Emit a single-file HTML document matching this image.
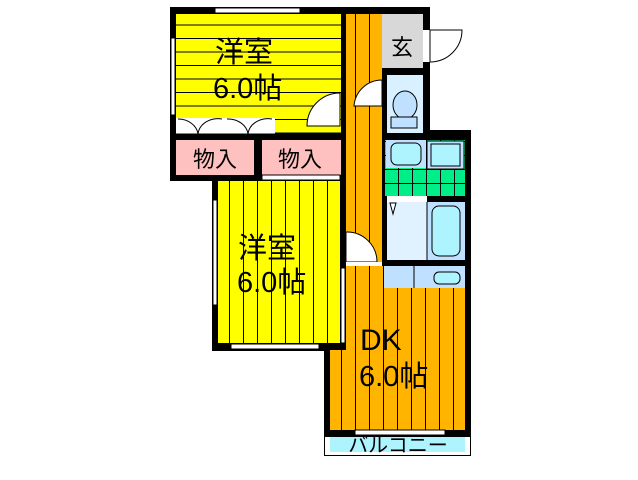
<!DOCTYPE html>
<html><head><meta charset="utf-8"><style>
html,body{margin:0;padding:0;background:#fff;width:638px;height:480px;overflow:hidden}
svg{display:block}
text{font-family:"Liberation Sans","Noto Sans CJK JP",sans-serif}
</style></head><body>
<svg width="638" height="480" viewBox="0 0 638 480">
<defs>
<pattern id="hl" width="10" height="13.5" patternUnits="userSpaceOnUse" y="12"><rect width="10" height="13.5" fill="#ffff00"/><line x1="0" y1="13" x2="10" y2="13" stroke="#000" stroke-width="1"/></pattern>
<pattern id="vl" width="14" height="10" patternUnits="userSpaceOnUse" x="216"><rect width="14" height="10" fill="#ffff00"/><line x1="13.5" y1="0" x2="13.5" y2="10" stroke="#000" stroke-width="1"/></pattern>
<pattern id="ol" width="14" height="10" patternUnits="userSpaceOnUse" x="342"><rect width="14" height="10" fill="#ffb400"/><line x1="13.5" y1="0" x2="13.5" y2="10" stroke="#000" stroke-width="1"/></pattern>
<pattern id="gt" width="14" height="14" patternUnits="userSpaceOnUse" x="385" y="156"><rect width="14" height="14" fill="#00ee88"/><path d="M13.5 0V14M0 13.5H14" stroke="#000" stroke-width="1"/></pattern>
</defs>
<rect x="170" y="7" width="176" height="174" fill="#000"/>
<rect x="212" y="175" width="134" height="176" fill="#000"/>
<rect x="340" y="7" width="90" height="130" fill="#000"/>
<rect x="340" y="130" width="131" height="140" fill="#000"/>
<rect x="324" y="260" width="147" height="177" fill="#000"/>
<rect x="330" y="266" width="135" height="164" fill="url(#ol)"/>
<rect x="324" y="262" width="22" height="88" fill="#000"/>
<!-- room 1 -->
<rect x="176" y="14" width="165" height="119" fill="url(#hl)"/>
<rect x="176" y="118" width="99" height="16" fill="#fff"/>
<g stroke="#000" fill="#fff" stroke-width="1">
<path d="M178 119 A20 17 0 0 1 198 134"/><path d="M222 119 A20 17 0 0 0 198 134"/>
<path d="M227 119 A20 17 0 0 1 248 134"/><path d="M272 119 A20 17 0 0 0 248 134"/>
<line x1="176" y1="134" x2="275" y2="134"/>
</g>
<rect x="176" y="140" width="78" height="35" fill="#ffc0c0"/>
<rect x="262" y="140" width="79" height="35" fill="#ffc0c0"/>
<text x="215" y="167" font-size="22" text-anchor="middle">物入</text>
<text x="300" y="167" font-size="22" text-anchor="middle">物入</text>
<text x="215" y="62" font-size="29">洋室</text>
<text x="213" y="98" font-size="29">6.0帖</text>
<path d="M340 93 A33 33 0 0 0 307 126 L340 126Z" fill="#fff" stroke="#000"/>
<!-- room 2 -->
<rect x="218" y="181" width="122" height="162" fill="url(#vl)"/>
<text x="238" y="258" font-size="29">洋室</text>
<text x="237" y="292" font-size="29">6.0帖</text>
<!-- corridor -->
<rect x="346" y="14" width="36" height="248" fill="url(#ol)"/>
<path d="M382 80 A28 28 0 0 0 354 106 L382 106Z" fill="#fff" stroke="#000"/>
<path d="M346 232 A30 30 0 0 1 377 262 L346 262Z" fill="#fff" stroke="#000"/>
<rect x="346" y="262" width="36" height="4" fill="#fff"/>
<!-- entrance -->
<rect x="382" y="14" width="41" height="54" fill="#d8d8d8"/>
<text x="402" y="55" font-size="22" text-anchor="middle">玄</text>
<rect x="423" y="30" width="7" height="32" fill="#fff"/>
<path d="M430 30 L462 30 A32 32 0 0 1 430 62 Z" fill="#fff" stroke="#000"/>
<!-- toilet -->
<rect x="387" y="75" width="36" height="58" fill="#d8f0ff"/>
<ellipse cx="405" cy="105" rx="12" ry="14" fill="#c0e0ff" stroke="#000"/>
<rect x="391" y="117" width="26" height="11" fill="#c0e0ff" stroke="#000"/>
<!-- washroom -->
<rect x="384" y="140" width="81" height="56" fill="url(#gt)"/>
<rect x="386" y="140" width="40" height="28" fill="#c0e0ff"/>
<path d="M397 143 h18 a6 6 0 0 1 6 6 v10 a6 6 0 0 1 -6 6 h-18 a6 6 0 0 1 -6 -6 v-10 a6 6 0 0 1 6 -6z" fill="#aef4ff" stroke="#000"/>
<rect x="427" y="141" width="37" height="28" fill="#c0e0ff" stroke="#000"/>
<rect x="431" y="144" width="29" height="22" fill="#aef4ff" stroke="#000"/>
<!-- bath -->
<rect x="387" y="202" width="40" height="58" fill="#e0f2ff"/>
<rect x="427" y="202" width="38" height="58" fill="#c0e0ff"/>
<line x1="427" y1="202" x2="427" y2="260" stroke="#000"/>
<rect x="432" y="206" width="28" height="50" rx="7" fill="#aef4ff" stroke="#000"/>
<rect x="387" y="196" width="40" height="6" fill="#fff"/>
<path d="M390 203 L396 203 L393 214Z" fill="#fff" stroke="#000"/>
<!-- DK fittings -->
<rect x="384" y="266" width="81" height="22" fill="#c0e0ff"/>
<line x1="414" y1="266" x2="414" y2="288" stroke="#000"/>
<rect x="434" y="272" width="26" height="12" rx="5" fill="#aef4ff" stroke="#000"/>
<text x="360" y="350" font-size="30">DK</text>
<text x="359" y="386" font-size="29">6.0帖</text>
<!-- windows -->
<g fill="#fff" stroke="#000" stroke-width="1">
<rect x="215" y="8" width="85" height="5"/>
<rect x="171" y="38" width="4" height="77"/>
<rect x="262" y="175" width="78" height="5"/>
<rect x="213" y="200" width="4" height="105"/>
<rect x="231" y="344" width="88" height="5"/>
<rect x="341" y="268" width="4" height="75"/>
<rect x="355" y="430" width="90" height="5"/>
</g>
<!-- balcony -->
<rect x="324.5" y="436.5" width="146" height="19" fill="#fff" stroke="#000"/>
<rect x="330" y="437" width="135" height="15" fill="#aef4ff"/>
<text x="398" y="452" font-size="20" text-anchor="middle">バルコニー</text>
</svg>
</body></html>
